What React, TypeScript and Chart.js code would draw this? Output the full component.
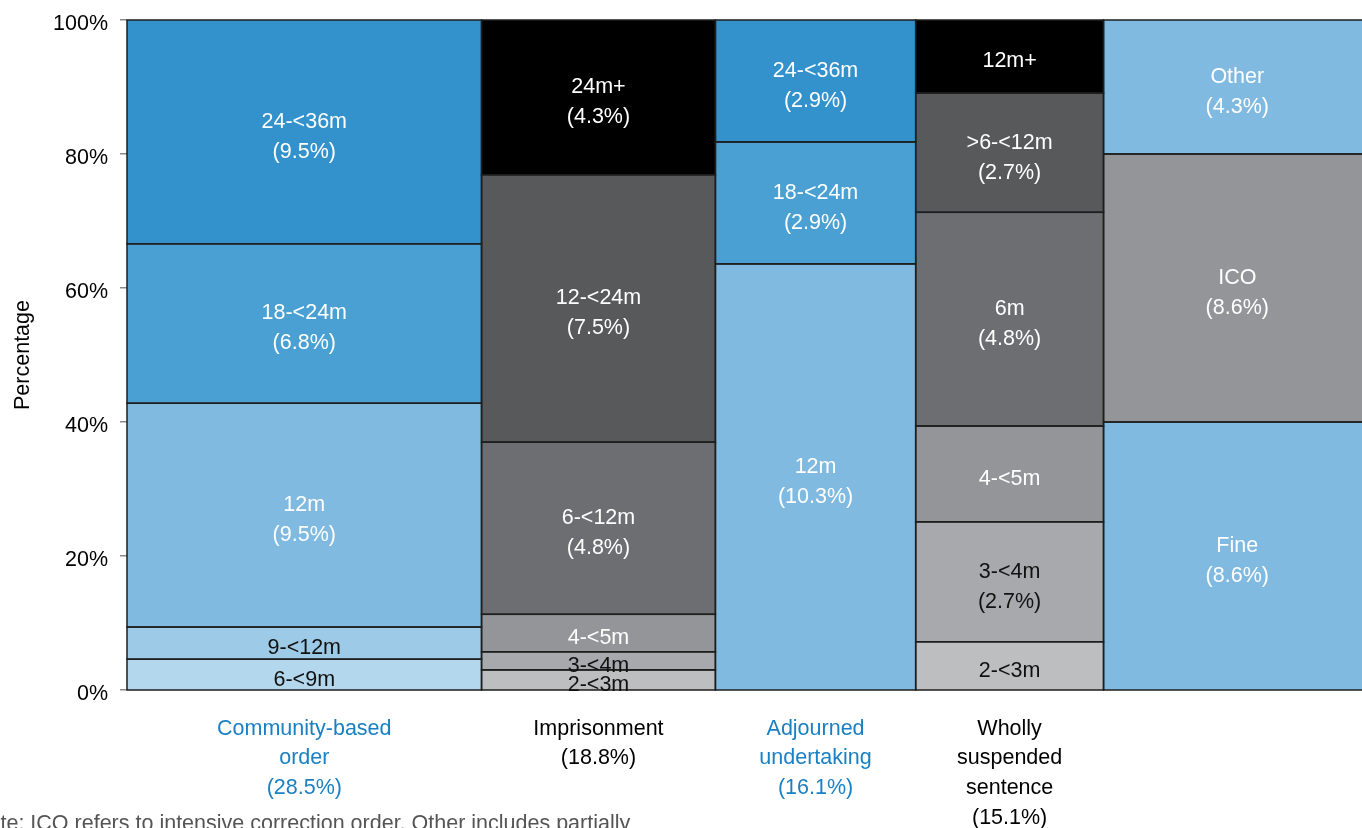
import React, { useEffect, useRef } from 'react';
import { Chart, registerables } from 'chart.js';

Chart.register(...registerables);

// ---- Data ----
const columnShares = [28.5, 18.8, 16.1, 15.1, 21.5];
const columnTickLines = [
  ['Community-based', 'order', '(28.5%)'],
  ['Imprisonment', '(18.8%)'],
  ['Adjourned', 'undertaking', '(16.1%)'],
  ['Wholly', 'suspended', 'sentence', '(15.1%)'],
  [],
];

const communityParts = ['6-<9m', '9-<12m', '12m', '18-<24m', '24-<36m'];
const communityHeights = [4.6, 4.8, 33.4, 23.8, 33.4];
const communityShares = ['', '', '(9.5%)', '(6.8%)', '(9.5%)'];

const imprisonmentParts = ['2-<3m', '3-<4m', '4-<5m', '6-<12m', '12-<24m', '24m+'];
const imprisonmentHeights = [3.0, 2.7, 5.6, 25.7, 39.9, 23.1];
const imprisonmentShares = ['', '', '', '(4.8%)', '(7.5%)', '(4.3%)'];

const adjournedParts = ['12m', '18-<24m', '24-<36m'];
const adjournedHeights = [63.6, 18.2, 18.2];
const adjournedShares = ['(10.3%)', '(2.9%)', '(2.9%)'];

const suspendedParts = ['2-<3m', '3-<4m', '4-<5m', '6m', '>6-<12m', '12m+'];
const suspendedHeights = [7.2, 17.9, 14.3, 31.9, 17.8, 10.9];
const suspendedShares = ['', '(2.7%)', '', '(4.8%)', '(2.7%)', ''];

const otherParts = ['Fine', 'ICO', 'Other'];
const otherHeights = [40, 40, 20];
const otherShares = ['(8.6%)', '(8.6%)', '(4.3%)'];

const yTickValues = [0, 20, 40, 60, 80, 100];

// ---- Styles ----
const FONT = '"Liberation Sans", Arial, sans-serif';
const FS = 21.5;
const BLUE_LABEL = '#1a80c4';
const tickColors = [BLUE_LABEL, '#000000', BLUE_LABEL, '#000000', '#000000'];

const communityColors = ['#b3d8ee', '#9dcae6', '#80bae0', '#4aa0d2', '#3392cb'];
const communityText = ['#111', '#111', '#fff', '#fff', '#fff'];
const imprisonmentColors = ['#bcbec0', '#a7a9ac', '#939598', '#6d6e71', '#58595b', '#000000'];
const imprisonmentText = ['#111', '#111', '#fff', '#fff', '#fff', '#fff'];
const adjournedColors = ['#80bae0', '#4aa0d2', '#3392cb'];
const adjournedText = ['#fff', '#fff', '#fff'];
const suspendedColors = ['#bcbec0', '#a7a9ac', '#939598', '#6d6e71', '#58595b', '#000000'];
const suspendedText = ['#111', '#111', '#fff', '#fff', '#fff', '#fff'];
const otherColors = ['#80bae0', '#939598', '#80bae0'];
const otherText = ['#fff', '#fff', '#fff'];

const columns = [
  { parts: communityParts, heights: communityHeights, shares: communityShares, colors: communityColors, text: communityText },
  { parts: imprisonmentParts, heights: imprisonmentHeights, shares: imprisonmentShares, colors: imprisonmentColors, text: imprisonmentText },
  { parts: adjournedParts, heights: adjournedHeights, shares: adjournedShares, colors: adjournedColors, text: adjournedText },
  { parts: suspendedParts, heights: suspendedHeights, shares: suspendedShares, colors: suspendedColors, text: suspendedText },
  { parts: otherParts, heights: otherHeights, shares: otherShares, colors: otherColors, text: otherText },
];

const columnCenters: number[] = [];
{
  let acc = 0;
  columnShares.forEach((s) => {
    columnCenters.push(acc + s / 2);
    acc += s;
  });
}

const mosaicPlugin = {
  id: 'mosaic',
  beforeDatasetsDraw(chart: any) {
    const { ctx, scales } = chart;
    const xs = scales.x;
    const ys = scales.y;
    const rects: any[] = [];
    let x0 = 0;
    columns.forEach((col, ci) => {
      const x1 = x0 + columnShares[ci];
      const px0 = xs.getPixelForValue(x0);
      const px1 = xs.getPixelForValue(x1);
      let y0 = 0;
      col.heights.forEach((h, i) => {
        const y1 = y0 + h;
        const pyB = ys.getPixelForValue(y0);
        const pyT = ys.getPixelForValue(y1);
        rects.push({ px0, px1, pyT, pyB, col, i });
        y0 = y1;
      });
      x0 = x1;
    });
    ctx.save();
    rects.forEach((r) => {
      ctx.fillStyle = r.col.colors[r.i];
      ctx.fillRect(r.px0, r.pyT, r.px1 - r.px0, r.pyB - r.pyT);
    });
    ctx.strokeStyle = '#1e1e1e';
    ctx.lineWidth = 1.5;
    rects.forEach((r) => {
      ctx.strokeRect(r.px0, r.pyT, r.px1 - r.px0, r.pyB - r.pyT);
    });
    ctx.font = `${FS}px ${FONT}`;
    ctx.textAlign = 'center';
    ctx.textBaseline = 'middle';
    rects.forEach((r) => {
      const lines = [r.col.parts[r.i]];
      if (r.col.shares[r.i]) lines.push(r.col.shares[r.i]);
      const cx = (r.px0 + r.px1) / 2;
      const cy = (r.pyT + r.pyB) / 2 + 5;
      const lh = 30;
      ctx.fillStyle = r.col.text[r.i];
      lines.forEach((t: string, k: number) => {
        ctx.fillText(t, cx, cy - ((lines.length - 1) * lh) / 2 + k * lh);
      });
    });
    ctx.restore();
  },
};

export default function App() {
  const ref = useRef<HTMLCanvasElement>(null);
  useEffect(() => {
    const chart = new Chart(ref.current as HTMLCanvasElement, {
      type: 'scatter',
      data: { datasets: [{ data: [] }] },
      options: {
        animation: false,
        responsive: false,
        layout: { padding: { top: 20, left: 0, right: 0, bottom: 0 } },
        plugins: { legend: { display: false }, tooltip: { enabled: false } },
        scales: {
          x: {
            type: 'linear',
            min: 0,
            max: 100,
            grid: { display: false, drawTicks: false },
            border: { display: false },
            afterBuildTicks: (s: any) => {
              s.ticks = columnCenters.map((v) => ({ value: v }));
            },
            afterFit: (s: any) => {
              s.height = 138;
              s.paddingLeft = 0;
              s.paddingRight = 0;
            },
            ticks: {
              autoSkip: false,
              maxRotation: 0,
              minRotation: 0,
              padding: 24,
              font: { family: FONT, size: FS, lineHeight: 1.38 },
              color: (c: any) => tickColors[c.index] || '#000',
              callback: (_v: any, i: number) => columnTickLines[i] as any,
            },
          },
          y: {
            type: 'linear',
            min: 0,
            max: 100,
            afterBuildTicks: (s: any) => {
              s.ticks = yTickValues.map((v) => ({ value: v }));
            },
            afterFit: (s: any) => {
              s.width = 127;
              s.paddingTop = 0;
              s.paddingBottom = 0;
            },
            ticks: {
              padding: 12,
              labelOffset: 4,
              font: { family: FONT, size: FS },
              color: '#000',
              callback: (v: any) => `${v}%`,
            },
            grid: { drawOnChartArea: false, tickLength: 7, color: '#8a8a8a', lineWidth: 1.5 },
            border: { display: false },
            title: {
              display: true,
              text: 'Percentage',
              color: '#000',
              font: { family: FONT, size: FS },
              padding: { top: 10, bottom: 0 },
            },
          },
        },
      },
      plugins: [mosaicPlugin],
    } as any);
    return () => chart.destroy();
  }, []);

  return (
    <div
      style={{
        position: 'fixed',
        left: 0,
        top: 0,
        width: 1362,
        height: 828,
        overflow: 'hidden',
        background: '#fff',
      }}
    >
      <canvas ref={ref} width={1371} height={828} style={{ position: 'absolute', left: 0, top: 0, width: 1371, height: 828 }} />
      <div
        style={{
          position: 'absolute',
          left: -27,
          top: 813,
          whiteSpace: 'nowrap',
          fontFamily: FONT,
          fontSize: FS,
          lineHeight: 1,
          color: '#555',
        }}
      >
        Note: ICO refers to intensive correction order. Other includes partially
      </div>
    </div>
  );
}
